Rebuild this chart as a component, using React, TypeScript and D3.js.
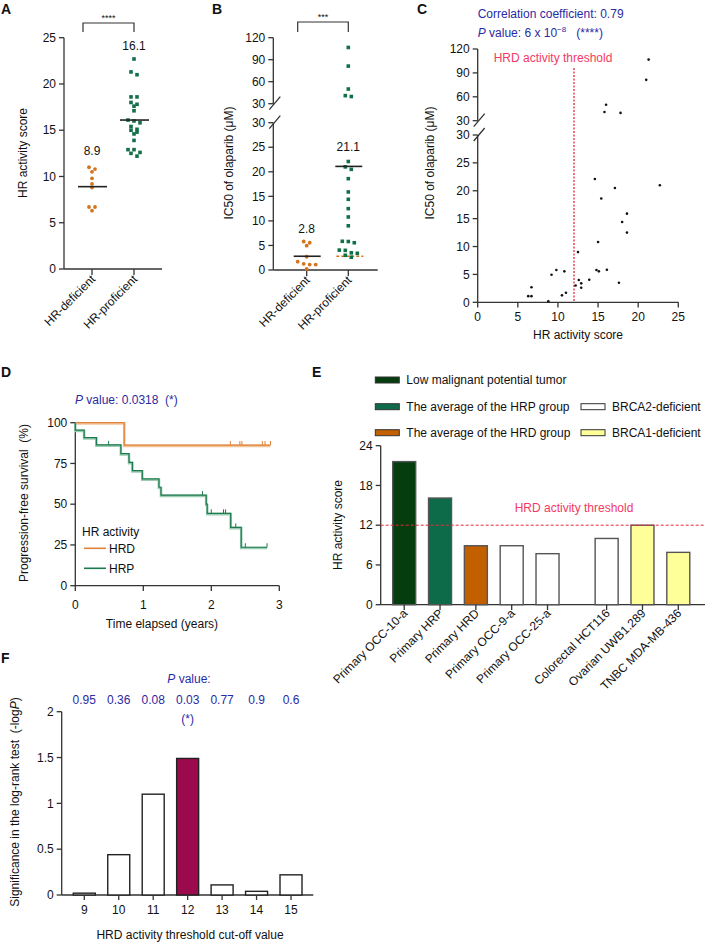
import React from "react";
import * as d3 from "d3";

// ---------------- DATA ----------------
// Per-sample HR activity score and olaparib IC50 (panels A, B, C)
const hrScores = [21.3, 21.0, 16.0, 15.8, 17.8, 14.6, 22.7, 17.1, 15.4, 18.6, 18.0, 18.6, 15.0, 12.5, 9.8, 9.2, 10.8, 14.8, 15.1, 16.1, 17.6, 6.7, 6.3, 6.7, 8.8, 10.5, 11.0, 12.2, 12.6, 12.9, 12.9, 13.9];
const ic50Values = [106.7, 81.3, 50, 41, 39.8, 22.1, 21.0, 20.5, 18.6, 15.9, 14.4, 12.5, 10.8, 9.0, 5.8, 4.95, 5.55, 5.8, 5.55, 5.85, 3.5, 2.7, 1.1, 1.1, 0.2, 1.25, 1.7, 3.0, 4.0, 3.4, 2.6, 4.05];
const groupNames = ["HR-deficient", "HR-proficient"];
const hrdThreshold = 12;
const meanScores = [8.9, 16.1];
const meanIC50 = [2.8, 21.1];
const ticksA = [0, 5, 10, 15, 20, 25];
const ticksLower = [0, 5, 10, 15, 20, 25, 30];
const ticksUpper = [30, 60, 90, 120];
const ticksC_x = [0, 5, 10, 15, 20, 25];

// Panel D: Kaplan-Meier
const hrdTimes = [0, 0.72, 2.87];
const hrdSurv = [100, 86.3, 86.3];
const hrdCensor = [2.28, 2.42, 2.45, 2.75, 2.79, 2.87];
const hrpTimes = [0, 0, 0.13, 0.31, 0.67, 0.79, 0.84, 0.985, 1.23, 1.26, 1.925, 1.94, 2.285, 2.44, 2.82];
const hrpSurv = [100, 95.5, 90.9, 86.4, 81.0, 75.7, 70.6, 65.5, 60.4, 55.6, 50.0, 44.4, 35.8, 23.6, 23.6];
const hrpCensor = [0.49, 1.87, 2.0, 2.18, 2.21, 2.36, 2.5, 2.82];
const ticksD_x = [0, 1, 2, 3];
const ticksD_y = [0, 25, 50, 75, 100];

// Panel E
const eCategories = ["Primary OCC-10-a", "Primary HRP", "Primary HRD", "Primary OCC-9-a", "Primary OCC-25-a", "Colorectal HCT116", "Ovarian UWB1.289", "TNBC MDA-MB-436"];
const eValues = [21.6, 16.1, 8.9, 8.9, 7.7, 10.0, 12.0, 7.9];
const eGroups = [0, 0, 0, 0, 0, 1, 1, 1];
const eKinds = ["lmp", "hrp", "hrd", "brca2", "brca2", "brca2", "brca1", "brca1"];
const ticksE = [0, 6, 12, 18, 24];

// Panel F
const fCutoffs = [9, 10, 11, 12, 13, 14, 15];
const fValues = [0.02, 0.44, 1.1, 1.49, 0.11, 0.04, 0.22];
const fPLabels = ["0.95", "0.36", "0.08", "0.03", "0.77", "0.9", "0.6"];
const ticksF = [0, 0.5, 1, 1.5, 2];

// ---------------- STYLE ----------------
const FONT = "'Liberation Sans', Arial, Helvetica, sans-serif";
const AXIS = "#333";
const BLUE = "#2a2aa3";
const PINK = "#f23a64";
const RED = "#e8283c";
const ORANGE = "#d4741c";
const GREEN = "#127049";
const PRE = { whiteSpace: "pre" as const };
const kindColor: Record<string, string> = {
  lmp: "#053d0e",
  hrp: "#0d6b4a",
  hrd: "#c26000",
  brca2: "#ffffff",
  brca1: "#ffff99",
};

function swarm(vals: number[], y: (v: number) => number, cx: number, spacing: number, tol: number) {
  const pts = vals.map((v) => ({ v, py: y(v) })).sort((a, b) => a.py - b.py);
  const rows: { v: number; py: number }[][] = [];
  let cur: { v: number; py: number }[] = [];
  for (const p of pts) {
    if (cur.length && p.py - cur[0].py > tol) {
      rows.push(cur);
      cur = [];
    }
    cur.push(p);
  }
  if (cur.length) rows.push(cur);
  const out: { x: number; y: number }[] = [];
  rows.forEach((row) => {
    const n = row.length;
    row.forEach((p, i) => out.push({ x: cx + (i - (n - 1) / 2) * spacing, y: p.py }));
  });
  return out;
}

function LeftAxis({ scale, ticks, x, fmt, from, to }: any) {
  const f = fmt || ((d: number) => String(d));
  const r = scale.range();
  return (
    <g>
      <line x1={x} x2={x} y1={from ?? r[0]} y2={to ?? r[1]} stroke={AXIS} strokeWidth={1.3} />
      {ticks.map((t: number) => (
        <g key={t}>
          <line x1={x - 5} x2={x} y1={scale(t)} y2={scale(t)} stroke={AXIS} strokeWidth={1.3} />
          <text x={x - 8} y={scale(t)} dy="0.35em" textAnchor="end" fontSize={12}>
            {f(t)}
          </text>
        </g>
      ))}
    </g>
  );
}

function Slash({ x, y }: { x: number; y: number }) {
  return <line x1={x - 4} y1={y + 6} x2={x + 7} y2={y - 7} stroke={AXIS} strokeWidth={1.3} />;
}

function RotLabel({ x, y, text }: { x: number; y: number; text: string }) {
  return (
    <text transform={`translate(${x},${y}) rotate(-45)`} textAnchor="end" fontSize={12}>
      {text}
    </text>
  );
}

export default function App() {
  const idx = hrScores.map((_, i) => i);
  const defIdx = idx.filter((i) => hrScores[i] < hrdThreshold);
  const proIdx = idx.filter((i) => hrScores[i] >= hrdThreshold);

  // ---------- Panel A ----------
  const yA = d3.scaleLinear().domain([0, 25]).range([269, 37.7]);
  const xA = d3.scalePoint<string>().domain(groupNames).range([92, 134]);
  const aDef = swarm(defIdx.map((i) => hrScores[i]), yA, xA(groupNames[0])!, 6, 3.2);
  const aPro = swarm(proIdx.map((i) => hrScores[i]), yA, xA(groupNames[1])!, 6, 3.2);

  // ---------- Panel B ----------
  const yBl = d3.scaleLinear().domain([0, 30]).range([270, 122.7]);
  const yBu = d3.scaleLinear().domain([30, 120]).range([103.7, 37.7]);
  const yB = (v: number) => (v <= 30 ? yBl(v) : yBu(v));
  const xB = d3.scalePoint<string>().domain(groupNames).range([306.7, 348.3]);
  const bDef = swarm(defIdx.map((i) => ic50Values[i]), yB, xB(groupNames[0])!, 6, 3.2);
  const bPro = swarm(proIdx.map((i) => ic50Values[i]), yB, xB(groupNames[1])!, 6, 3.2);

  // ---------- Panel C ----------
  const xC = d3.scaleLinear().domain([0, 25]).range([477.7, 678.3]);
  const yCl = d3.scaleLinear().domain([0, 30]).range([302.3, 135]);
  const yCu = d3.scaleLinear().domain([30, 120]).range([120.7, 49]);
  const yC = (v: number) => (v <= 30 ? yCl(v) : yCu(v));

  // ---------- Panel D ----------
  const xD = d3.scaleLinear().domain([0, 3]).range([75.3, 279.3]);
  const yD = d3.scaleLinear().domain([0, 100]).range([585.7, 422.7]);
  const km = d3
    .line<[number, number]>()
    .x((d) => xD(d[0]))
    .y((d) => yD(d[1]))
    .curve(d3.curveStepAfter);
  const hrdPts = hrdTimes.map((t, i) => [t, hrdSurv[i]] as [number, number]);
  const hrpPts = hrpTimes.map((t, i) => [t, hrpSurv[i]] as [number, number]);
  const survAt = (times: number[], surv: number[], t: number) => {
    let s = surv[0];
    times.forEach((tt, i) => {
      if (tt <= t) s = surv[i];
    });
    return s;
  };

  // ---------- Panel E ----------
  const gapSlots = 0.65;
  const ePos = eCategories.map((_, i) => i + eGroups[i] * gapSlots);
  const xE = d3.scaleLinear().domain([0, 7 + gapSlots]).range([404.2, 678.3]);
  const yE = d3.scaleLinear().domain([0, 24]).range([604.7, 445.7]);
  const eBarW = 23;

  // ---------- Panel F ----------
  const xF = d3.scaleLinear().domain([9, 15]).range([84.3, 291]);
  const yF = d3.scaleLinear().domain([0, 2]).range([895, 711.7]);
  const fBarW = 22;

  const legendE = [
    { kind: "lmp", label: "Low malignant potential tumor", x: 375.3, y: 380 },
    { kind: "hrp", label: "The average of the HRP group", x: 375.3, y: 406.7 },
    { kind: "hrd", label: "The average of the HRD group", x: 375.3, y: 432.7 },
    { kind: "brca2", label: "BRCA2-deficient", x: 581, y: 406.7 },
    { kind: "brca1", label: "BRCA1-deficient", x: 581, y: 432.7 },
  ];

  return (
    <svg
      width={705}
      height={942}
      style={{ position: "absolute", left: 0, top: 0, background: "#fff" }}
      fontFamily={FONT}
      fill="#111"
    >
      {/* Panel letters */}
      {[
        ["A", 1, 14],
        ["B", 212, 14],
        ["C", 417, 14],
        ["D", 1, 377],
        ["E", 312, 377],
        ["F", 1, 663],
      ].map(([l, x, y]) => (
        <text key={l as string} x={x as number} y={y as number} fontSize={14} fontWeight="bold">
          {l}
        </text>
      ))}

      {/* ================= Panel A ================= */}
      <g>
        <LeftAxis scale={yA} ticks={ticksA} x={64} />
        <line x1={64} x2={162} y1={269} y2={269} stroke={AXIS} strokeWidth={1.3} />
        {groupNames.map((g) => (
          <g key={g}>
            <line x1={xA(g)} x2={xA(g)} y1={269} y2={275} stroke={AXIS} strokeWidth={1.3} />
            <RotLabel x={xA(g)! + 4} y={280} text={g} />
          </g>
        ))}
        <text transform={`translate(27,153) rotate(-90)`} textAnchor="middle" fontSize={12}>
          HR activity score
        </text>
        <path d={`M${xA(groupNames[0])! - 9},32 V23 H${xA(groupNames[1])} V32`} fill="none" stroke={AXIS} strokeWidth={1.2} />
        <text x={(xA(groupNames[0])! - 9 + xA(groupNames[1])!) / 2} y={21} textAnchor="middle" fontSize={9}>
          ****
        </text>
        {aDef.map((p, i) => (
          <circle key={"ad" + i} cx={p.x} cy={p.y} r={1.9} fill={ORANGE} />
        ))}
        {aPro.map((p, i) => (
          <rect key={"ap" + i} x={p.x - 1.8} y={p.y - 1.8} width={3.6} height={3.6} fill={GREEN} />
        ))}
        {groupNames.map((g, i) => (
          <g key={"ma" + g}>
            <line x1={xA(g)! - 14} x2={xA(g)! + 15} y1={yA(meanScores[i])} y2={yA(meanScores[i])} stroke="#222" strokeWidth={1.6} />
          </g>
        ))}
        <text x={xA(groupNames[0])} y={yA(11.0) - 12} textAnchor="middle" fontSize={12}>
          {meanScores[0].toFixed(1)}
        </text>
        <text x={xA(groupNames[1])} y={yA(22.7) - 9} textAnchor="middle" fontSize={12}>
          {meanScores[1].toFixed(1)}
        </text>
      </g>

      {/* ================= Panel B ================= */}
      <g>
        <LeftAxis scale={yBu} ticks={ticksUpper} x={273.3} />
        <LeftAxis scale={yBl} ticks={ticksLower} x={273.3} />
        <Slash x={273.3} y={yBu(30)} />
        <Slash x={273.3} y={yBl(30)} />
        <line x1={273.3} x2={377.7} y1={270} y2={270} stroke={AXIS} strokeWidth={1.3} />
        {groupNames.map((g) => (
          <g key={g}>
            <line x1={xB(g)} x2={xB(g)} y1={270} y2={276} stroke={AXIS} strokeWidth={1.3} />
            <RotLabel x={xB(g)! + 4} y={281} text={g} />
          </g>
        ))}
        <text transform={`translate(233,163) rotate(-90)`} textAnchor="middle" fontSize={12}>
          IC50 of olaparib (μM)
        </text>
        <path d={`M${xB(groupNames[0])! - 9},32 V22 H${xB(groupNames[1])} V32`} fill="none" stroke={AXIS} strokeWidth={1.2} />
        <text x={(xB(groupNames[0])! - 9 + xB(groupNames[1])!) / 2} y={20} textAnchor="middle" fontSize={9}>
          ***
        </text>
        <line
          x1={xB(groupNames[1])! - 12}
          x2={xB(groupNames[1])! + 15}
          y1={yB(meanIC50[0])}
          y2={yB(meanIC50[0])}
          stroke={ORANGE}
          strokeWidth={1.3}
          strokeDasharray="3,2"
        />
        {bDef.map((p, i) => (
          <circle key={"bd" + i} cx={p.x} cy={p.y} r={1.9} fill={ORANGE} />
        ))}
        {bPro.map((p, i) => (
          <rect key={"bp" + i} x={p.x - 1.8} y={p.y - 1.8} width={3.6} height={3.6} fill={GREEN} />
        ))}
        {groupNames.map((g, i) => (
          <line key={"mb" + g} x1={xB(g)! - 13} x2={xB(g)! + 14} y1={yB(meanIC50[i])} y2={yB(meanIC50[i])} stroke="#222" strokeWidth={1.6} />
        ))}
        <text x={xB(groupNames[0])} y={yB(5.8) - 9} textAnchor="middle" fontSize={12}>
          {meanIC50[0].toFixed(1)}
        </text>
        <text x={xB(groupNames[1])} y={yB(22.1) - 10} textAnchor="middle" fontSize={12}>
          {meanIC50[1].toFixed(1)}
        </text>
      </g>

      {/* ================= Panel C ================= */}
      <g>
        <text x={477.7} y={18} fontSize={12} fill={BLUE}>
          Correlation coefficient: 0.79
        </text>
        <text x={477.7} y={37} fontSize={12} fill={BLUE} style={PRE}>
          <tspan fontStyle="italic">P</tspan>
          <tspan>{" value: 6 x 10"}</tspan>
          <tspan dy={-5} fontSize={8}>
            −8
          </tspan>
          <tspan dy={5}>{"   (****)"}</tspan>
        </text>
        <LeftAxis scale={yCu} ticks={ticksUpper} x={477.7} />
        <LeftAxis scale={yCl} ticks={ticksLower} x={477.7} />
        <Slash x={477.7} y={yCu(30)} />
        <Slash x={477.7} y={yCl(30)} />
        <line x1={477.7} x2={678.3} y1={302.3} y2={302.3} stroke={AXIS} strokeWidth={1.3} />
        {ticksC_x.map((t) => (
          <g key={t}>
            <line x1={xC(t)} x2={xC(t)} y1={302.3} y2={307.5} stroke={AXIS} strokeWidth={1.3} />
            <text x={xC(t)} y={320.5} textAnchor="middle" fontSize={12}>
              {t}
            </text>
          </g>
        ))}
        <text x={578} y={339} textAnchor="middle" fontSize={12}>
          HR activity score
        </text>
        <text transform={`translate(434,163) rotate(-90)`} textAnchor="middle" fontSize={12}>
          IC50 of olaparib (μM)
        </text>
        <line x1={xC(hrdThreshold)} x2={xC(hrdThreshold)} y1={68} y2={302.3} stroke={RED} strokeWidth={1.3} strokeDasharray="2,1.5" />
        <text x={553} y={62} textAnchor="middle" fontSize={12} fill={PINK}>
          HRD activity threshold
        </text>
        {hrScores.map((h, i) => (
          <circle key={"c" + i} cx={xC(h)} cy={yC(ic50Values[i])} r={1.3} fill="#111" />
        ))}
      </g>

      {/* ================= Panel D ================= */}
      <g>
        <text x={75} y={404} fontSize={12} fill={BLUE} style={PRE}>
          <tspan fontStyle="italic">P</tspan>
          <tspan>{" value: 0.0318  (*)"}</tspan>
        </text>
        <LeftAxis scale={yD} ticks={ticksD_y} x={75.3} />
        <line x1={75.3} x2={279.3} y1={585.7} y2={585.7} stroke={AXIS} strokeWidth={1.3} />
        {ticksD_x.map((t) => (
          <g key={t}>
            <line x1={xD(t)} x2={xD(t)} y1={585.7} y2={591} stroke={AXIS} strokeWidth={1.3} />
            <text x={xD(t)} y={609} textAnchor="middle" fontSize={12}>
              {t}
            </text>
          </g>
        ))}
        <text x={162} y={627.5} textAnchor="middle" fontSize={12}>
          Time elapsed (years)
        </text>
        <text transform={`translate(28,503) rotate(-90)`} textAnchor="middle" fontSize={12} style={PRE}>
          {"Progression-free survival  (%)"}
        </text>
        {/* HRD curve */}
        <path d={km(hrdPts)!} fill="none" stroke="#f2c49a" strokeWidth={2.6} transform="translate(0,0.8)" />
        <path d={km(hrdPts)!} fill="none" stroke="#e0823a" strokeWidth={1.2} />
        {hrdCensor.map((t, i) => (
          <line key={"hc" + i} x1={xD(t)} x2={xD(t)} y1={yD(survAt(hrdTimes, hrdSurv, t)) - 4} y2={yD(survAt(hrdTimes, hrdSurv, t))} stroke="#e0823a" strokeWidth={1} />
        ))}
        {/* HRP curve */}
        <path d={km(hrpPts)!} fill="none" stroke="#9ccdb3" strokeWidth={2.6} transform="translate(0,0.8)" />
        <path d={km(hrpPts)!} fill="none" stroke="#1d7a4f" strokeWidth={1.2} />
        {hrpCensor.map((t, i) => (
          <line key={"pc" + i} x1={xD(t)} x2={xD(t)} y1={yD(survAt(hrpTimes, hrpSurv, t)) - 4} y2={yD(survAt(hrpTimes, hrpSurv, t))} stroke="#1d7a4f" strokeWidth={1} />
        ))}
        {/* legend */}
        <text x={82} y={536} fontSize={12}>
          HR activity
        </text>
        <line x1={84} x2={106} y1={548.3} y2={548.3} stroke="#e0823a" strokeWidth={1.6} />
        <text x={109} y={552.5} fontSize={12}>
          HRD
        </text>
        <line x1={84} x2={106} y1={568.3} y2={568.3} stroke="#1d7a4f" strokeWidth={1.6} />
        <text x={109} y={572.5} fontSize={12}>
          HRP
        </text>
      </g>

      {/* ================= Panel E ================= */}
      <g>
        {legendE.map((l) => (
          <g key={l.label}>
            <rect x={l.x} y={l.y - 3} width={24} height={6} fill={kindColor[l.kind]} stroke="#333" strokeWidth={1} />
            <text x={l.x + 31} y={l.y + 4.3} fontSize={12}>
              {l.label}
            </text>
          </g>
        ))}
        <LeftAxis scale={yE} ticks={ticksE} x={380.7} />
        <line x1={380.7} x2={705} y1={604.7} y2={604.7} stroke={AXIS} strokeWidth={1.3} />
        <text transform={`translate(342,525) rotate(-90)`} textAnchor="middle" fontSize={12}>
          HR activity score
        </text>
        {eCategories.map((c, i) => {
          const cx = xE(ePos[i]);
          return (
            <g key={c}>
              <rect
                x={cx - eBarW / 2}
                y={yE(eValues[i])}
                width={eBarW}
                height={yE(0) - yE(eValues[i])}
                fill={kindColor[eKinds[i]]}
                stroke="#555"
                strokeWidth={1.4}
              />
              <line x1={cx} x2={cx} y1={604.7} y2={610} stroke={AXIS} strokeWidth={1.3} />
              <RotLabel x={cx + 4} y={614} text={c} />
            </g>
          );
        })}
        <line x1={380.7} x2={705} y1={yE(hrdThreshold)} y2={yE(hrdThreshold)} stroke={RED} strokeWidth={1} strokeDasharray="3,2" />
        <text x={574} y={511.5} textAnchor="middle" fontSize={12} fill={PINK}>
          HRD activity threshold
        </text>
      </g>

      {/* ================= Panel F ================= */}
      <g>
        <text x={189} y={682.5} textAnchor="middle" fontSize={12} fill={BLUE}>
          <tspan fontStyle="italic">P</tspan>
          <tspan> value:</tspan>
        </text>
        {fCutoffs.map((c, i) => (
          <text key={"pl" + c} x={xF(c)} y={703.5} textAnchor="middle" fontSize={12} fill={BLUE}>
            {fPLabels[i]}
          </text>
        ))}
        <text x={xF(12)} y={723} textAnchor="middle" fontSize={12} fill={BLUE}>
          (*)
        </text>
        <LeftAxis scale={yF} ticks={ticksF} x={61.7} />
        <line x1={61.7} x2={313.3} y1={895} y2={895} stroke={AXIS} strokeWidth={1.3} />
        {fCutoffs.map((c, i) => (
          <g key={"fb" + c}>
            <rect
              x={xF(c) - fBarW / 2}
              y={yF(fValues[i])}
              width={fBarW}
              height={yF(0) - yF(fValues[i])}
              fill={c === hrdThreshold ? "#9a0a4c" : "#fff"}
              stroke="#222"
              strokeWidth={1.4}
            />
            <line x1={xF(c)} x2={xF(c)} y1={895} y2={900} stroke={AXIS} strokeWidth={1.3} />
            <text x={xF(c)} y={914} textAnchor="middle" fontSize={12}>
              {c}
            </text>
          </g>
        ))}
        <text x={190} y={939} textAnchor="middle" fontSize={12}>
          HRD activity threshold cut-off value
        </text>
        <text transform={`translate(19,802) rotate(-90)`} textAnchor="middle" fontSize={12} style={PRE}>
          <tspan>{"Significance in the log-rank test  (-log"}</tspan>
          <tspan fontStyle="italic">P</tspan>
          <tspan>)</tspan>
        </text>
      </g>
    </svg>
  );
}
